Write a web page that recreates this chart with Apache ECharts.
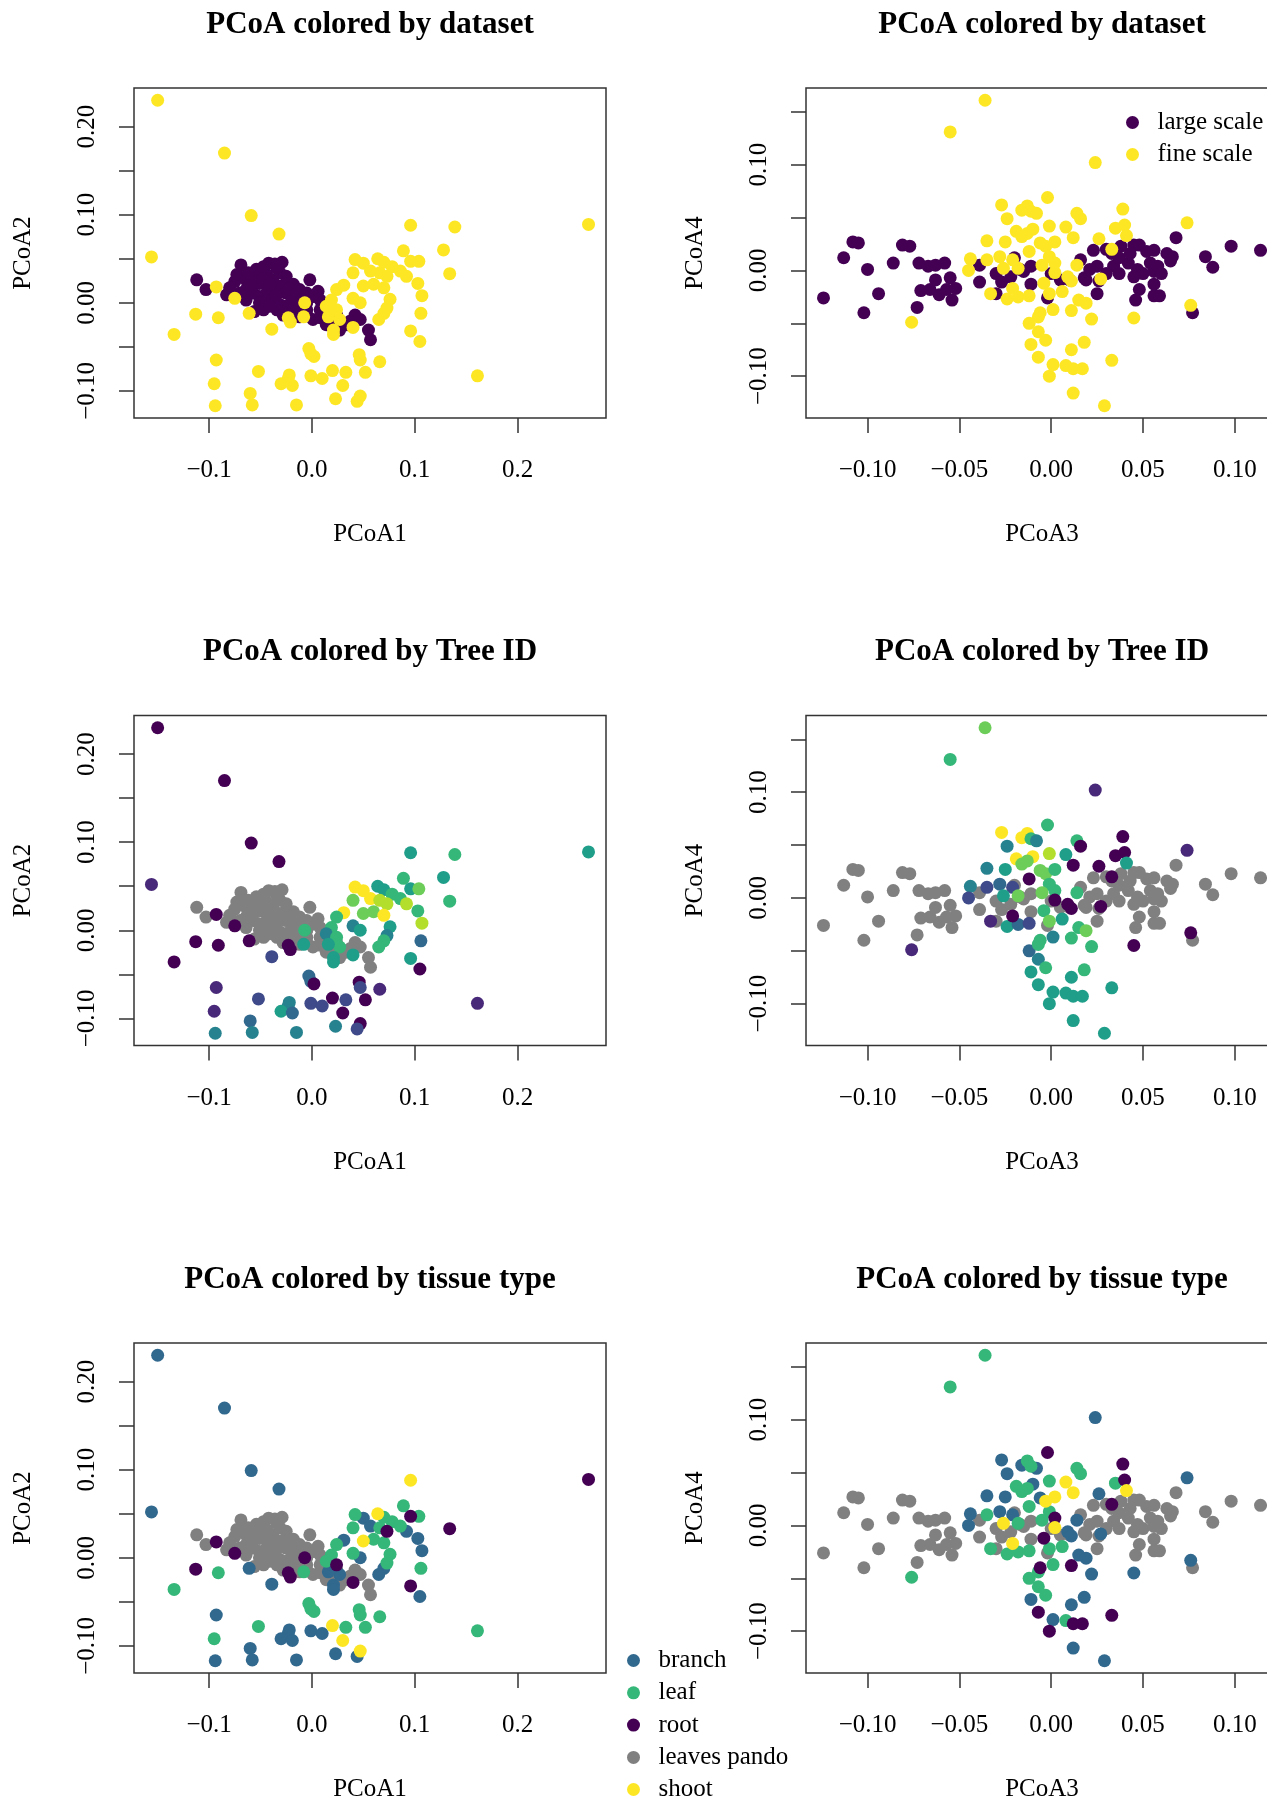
<!DOCTYPE html>
<html>
<head>
<meta charset="utf-8">
<title>PCoA panels</title>
<script src="https://cdn.jsdelivr.net/npm/echarts@6.0.0/dist/echarts.min.js"></script>
<style>
  html, body { margin: 0; padding: 0; background: #fff; }
  #chart { width: 1267px; height: 1800px; }
</style>
</head>
<body>
<div id="chart"></div>
<script>
var datasetNames = ['large scale', 'fine scale'];
var tissueLegend = ['branch', 'leaf', 'root', 'leaves pando', 'shoot'];
// tissue codes in the fine-scale arrays: 0 branch, 1 leaf, 2 root, 3 shoot, -1 not recorded
var tissueCodes = ['branch', 'leaf', 'root', 'shoot'];
var tissueColors = { branch: '#31688E', leaf: '#35B779', root: '#440154', shoot: '#FDE725', 'leaves pando': '#808080' };
var treeColors = ['#440154', '#482878', '#3E4A89', '#31688E', '#26828E', '#1F9E89', '#35B779', '#6DCD59', '#B4DE2C', '#FDE725'];

var ticks12X = [-0.1, 0, 0.1, 0.2];
var ticks12Y = [-0.1, -0.05, 0, 0.05, 0.1, 0.15, 0.2];
var labels12Y = [-0.1, 0, 0.1, 0.2];
var ticks34X = [-0.1, -0.05, 0, 0.05, 0.1];
var ticks34Y = [-0.1, -0.05, 0, 0.05, 0.1, 0.15];
var labels34Y = [-0.1, 0, 0.1];

// [PCoA1, PCoA2]
var large12 = [
  [-0.112,0.026],[-0.103,0.015],[-0.083,0.009],[-0.075,0.024],[-0.069,0.043],[-0.073,0.032],[-0.042,0.045],[-0.029,0.046],
  [-0.002,0.026],[0.006,0.013],[0.008,0.003],[0.042,-0.014],[0.047,-0.019],[0.055,-0.031],[0.057,-0.042],[0.027,-0.031],
  [-0.056,-0.010],[0.001,-0.019],[0.014,-0.025],[-0.064,0.026],[-0.057,0.030],[-0.051,0.022],[-0.044,0.032],[-0.038,0.026],
  [-0.031,0.034],[-0.025,0.022],[-0.018,0.021],[-0.012,0.015],[-0.005,0.011],[0.001,0.007],[-0.064,0.015],[-0.057,0.011],
  [-0.051,0.007],[-0.044,0.011],[-0.038,0.015],[-0.031,0.019],[-0.025,0.011],[-0.018,0.007],[-0.012,0.003],[-0.005,0.000],
  [-0.051,0.000],[-0.044,0.002],[-0.038,0.003],[-0.031,-0.002],[-0.025,-0.004],[-0.018,-0.008],[-0.012,-0.012],[-0.005,-0.014],
  [-0.034,-0.008],[-0.028,-0.014],[-0.047,-0.008],[-0.064,0.003],[-0.070,0.011],[-0.080,0.017],[-0.054,0.038],[-0.047,0.041],
  [-0.034,0.039],[-0.025,0.030],[0.008,-0.008],[0.014,-0.012],[0.021,-0.019],[0.034,-0.025],[0.008,-0.017],[-0.005,-0.008],
  [-0.012,-0.016],[0.037,-0.021],[0.024,-0.014],[0.011,-0.004],[-0.060,0.020],[-0.048,0.027],[-0.041,0.021],[-0.035,0.008],
  [-0.022,0.016],[-0.015,0.010],[-0.008,0.005],[-0.041,-0.004],[-0.020,0.001],[-0.062,0.034],[-0.036,0.044],[-0.015,-0.003]
];

// [PCoA1, PCoA2, tree, tissue]
var fine12 = [
  [-0.150,0.230,1,0],[-0.085,0.170,1,0],[-0.059,0.099,1,0],[-0.032,0.078,1,0],[-0.156,0.052,2,0],[0.096,0.088,6,3],
  [0.139,0.086,7,-1],[0.269,0.089,6,2],[0.089,0.059,7,1],[0.128,0.060,6,-1],[0.134,0.033,7,2],[0.042,0.049,10,1],
  [0.050,0.045,10,0],[0.064,0.050,6,3],[0.070,0.046,6,1],[0.078,0.041,7,1],[0.086,0.036,7,1],[0.092,0.030,9,0],
  [0.096,0.047,6,2],[0.104,0.047,8,1],[0.040,0.034,8,1],[0.057,0.036,10,0],[0.066,0.034,9,1],[0.073,0.030,9,2],
  [0.103,0.022,7,0],[0.107,0.008,9,0],[0.106,-0.012,4,1],[0.096,-0.032,6,2],[0.105,-0.044,1,0],[0.031,0.020,10,0],
  [0.024,0.015,7,1],[0.050,0.019,8,3],[0.060,0.021,8,1],[0.070,0.017,10,1],[0.040,0.005,5,1],[0.047,0.000,6,0],
  [0.076,0.004,6,1],[0.073,-0.006,5,1],[0.070,-0.012,7,0],[0.065,-0.019,7,0],[0.019,0.003,7,1],[0.014,-0.004,5,1],
  [0.024,-0.008,7,2],[0.027,-0.019,7,0],[0.016,-0.016,6,0],[-0.007,0.000,7,2],[-0.008,-0.016,6,1],[-0.023,-0.017,1,2],
  [-0.021,-0.022,1,2],[0.040,-0.028,6,2],[0.021,-0.031,6,0],[0.021,-0.036,6,0],[-0.093,0.018,1,2],[-0.075,0.005,1,2],
  [-0.061,-0.012,1,0],[-0.113,-0.013,1,2],[-0.091,-0.017,1,1],[-0.134,-0.036,1,1],[-0.039,-0.030,3,0],[-0.003,-0.052,4,1],
  [-0.001,-0.058,4,1],[0.002,-0.061,1,1],[-0.093,-0.065,2,0],[-0.052,-0.078,3,1],[-0.022,-0.082,5,0],[-0.023,-0.086,5,0],
  [-0.030,-0.092,6,0],[-0.019,-0.094,4,0],[-0.001,-0.083,3,0],[0.010,-0.086,3,0],[0.020,-0.077,1,3],[0.033,-0.079,3,1],
  [0.030,-0.094,1,3],[0.023,-0.109,5,0],[-0.015,-0.116,5,0],[-0.095,-0.092,2,1],[-0.094,-0.117,5,0],[-0.060,-0.103,4,0],
  [-0.058,-0.116,5,0],[0.046,-0.059,1,1],[0.047,-0.065,3,1],[0.052,-0.079,1,1],[0.066,-0.067,2,1],[0.047,-0.106,1,3],
  [0.044,-0.112,3,0],[0.161,-0.083,2,1]
];

// [PCoA3, PCoA4]
var large34 = [
  [-0.124,-0.026],[-0.113,0.012],[-0.108,0.027],[-0.105,0.026],[-0.100,0.001],[-0.102,-0.040],[-0.094,-0.022],[-0.086,0.007],
  [-0.081,0.024],[-0.077,0.023],[-0.072,0.007],[-0.067,0.004],[-0.063,0.005],[-0.058,0.007],[-0.073,-0.035],[-0.071,-0.019],
  [-0.066,-0.018],[-0.063,-0.009],[-0.061,-0.023],[-0.055,-0.007],[-0.054,-0.028],[-0.052,-0.017],[-0.057,-0.018],[-0.039,0.005],
  [-0.039,-0.011],[-0.030,-0.003],[-0.027,-0.011],[-0.030,-0.022],[-0.022,-0.006],[-0.020,0.012],[-0.017,0.001],[-0.015,-0.001],
  [-0.011,-0.013],[-0.011,0.004],[-0.002,-0.026],[0.000,-0.003],[0.005,-0.009],[0.010,-0.009],[0.016,0.010],[0.018,-0.007],
  [0.019,-0.009],[0.023,0.019],[0.025,0.004],[0.025,-0.022],[0.026,-0.010],[0.030,0.020],[0.034,0.004],[0.037,-0.003],
  [0.038,0.023],[0.045,0.024],[0.048,0.024],[0.052,0.018],[0.056,0.019],[0.042,0.007],[0.047,0.001],[0.050,-0.003],
  [0.054,0.007],[0.056,-0.001],[0.058,0.004],[0.060,-0.003],[0.048,-0.018],[0.046,-0.028],[0.056,-0.013],[0.056,-0.024],
  [0.059,-0.024],[0.068,0.031],[0.066,0.013],[0.065,0.009],[0.084,0.013],[0.088,0.003],[0.077,-0.040],[0.098,0.023],
  [0.114,0.019],[0.033,0.016],[0.037,0.012],[0.045,-0.006],[0.030,-0.003],[0.021,0.001],[0.063,0.016],[0.043,0.016]
];

// [PCoA3, PCoA4, tree, tissue]
var fine34 = [
  [-0.036,0.161,8,1],[-0.055,0.131,7,1],[0.024,0.102,2,0],[-0.002,0.069,7,2],[-0.027,0.062,10,0],[-0.016,0.057,10,0],
  [-0.013,0.061,10,1],[-0.011,0.056,7,1],[-0.008,0.054,5,0],[-0.024,0.049,5,0],[0.014,0.054,7,1],[0.016,0.049,1,1],
  [0.039,0.058,1,2],[0.040,0.043,1,2],[0.035,0.040,1,1],[0.074,0.045,2,0],[0.041,0.033,6,3],[0.008,0.041,6,3],
  [0.012,0.031,1,3],[0.026,0.030,1,0],[0.033,0.020,1,2],[-0.001,0.042,9,1],[-0.019,0.037,10,1],[-0.010,0.039,10,0],
  [-0.013,0.035,8,1],[-0.016,0.032,8,1],[-0.035,0.028,5,0],[-0.025,0.027,6,0],[-0.006,0.026,8,0],[-0.003,0.023,8,3],
  [0.002,0.027,7,3],[-0.044,0.011,5,0],[-0.035,0.010,3,1],[-0.028,0.013,4,0],[-0.021,0.010,3,0],[-0.026,0.002,6,3],
  [-0.018,0.002,8,1],[-0.012,0.018,1,1],[-0.001,0.013,7,1],[0.002,0.007,7,2],[-0.005,0.005,8,1],[0.009,-0.006,1,0],
  [0.014,0.005,7,0],[0.027,-0.008,1,0],[-0.004,-0.012,7,2],[-0.033,-0.022,2,1],[-0.024,-0.027,6,1],[-0.018,-0.025,4,1],
  [-0.012,-0.024,3,1],[-0.001,-0.022,8,1],[0.006,-0.020,6,1],[0.001,-0.037,5,1],[0.015,-0.028,7,0],[0.019,-0.031,8,0],
  [0.011,-0.038,7,2],[0.022,-0.046,7,0],[0.045,-0.045,1,0],[0.076,-0.033,1,0],[-0.076,-0.049,2,1],[-0.012,-0.050,4,1],
  [-0.007,-0.044,7,1],[-0.006,-0.040,7,2],[-0.007,-0.058,5,1],[-0.003,-0.066,7,1],[-0.011,-0.070,6,0],[-0.007,-0.082,6,2],
  [0.001,-0.089,6,0],[-0.001,-0.100,6,2],[0.008,-0.090,6,1],[0.012,-0.093,6,2],[0.017,-0.093,6,2],[0.011,-0.075,6,0],
  [0.018,-0.068,7,0],[0.033,-0.085,6,2],[0.012,-0.116,6,0],[0.029,-0.128,6,0],[-0.045,0.000,3,0],[0.002,-0.002,1,3],
  [0.011,-0.010,1,0],[-0.021,-0.017,1,3]
];

var font = "'Liberation Serif', 'Times New Roman', serif";
var colLeft = [134, 806];
var rowTop = [88, 715.5, 1343];
var boxW = 472, boxH = 330;

// R pads the data range by 4% on each side
function padRange(pts, k) {
  var lo = Infinity, hi = -Infinity;
  pts.forEach(function (p) { lo = Math.min(lo, p[k]); hi = Math.max(hi, p[k]); });
  var d = (hi - lo) * 0.04;
  return [lo - d, hi + d];
}
function fmt(dec) {
  return function (v) {
    var s = Math.abs(v).toFixed(dec);
    return (v < -1e-9 ? '\u2212' : '') + s;
  };
}

var all12 = large12.concat(fine12), all34 = large34.concat(fine34);
var sets = [
  { rx: padRange(all12, 0), ry: padRange(all12, 1), tx: ticks12X, lx: ticks12X, ty: ticks12Y, ly: labels12Y, dx: 1, nx: 'PCoA1', ny: 'PCoA2' },
  { rx: padRange(all34, 0), ry: padRange(all34, 1), tx: ticks34X, lx: ticks34X, ty: ticks34Y, ly: labels34Y, dx: 2, nx: 'PCoA3', ny: 'PCoA4' }
];
var titles = ['PCoA colored by dataset', 'PCoA colored by Tree ID', 'PCoA colored by tissue type'];

var grids = [], xAxes = [], yAxes = [], titleOpts = [], series = [];
var tickStyle = { color: '#333', width: 1.5 };

for (var i = 0; i < 6; i++) {
  var row = Math.floor(i / 2), col = i % 2, s = sets[col];
  grids.push({
    left: colLeft[col], top: rowTop[row], width: boxW, height: boxH,
    show: true, borderColor: '#333', borderWidth: 1.5, backgroundColor: 'transparent',
    containLabel: false, outerBoundsMode: 'none'
  });
  xAxes.push({
    gridIndex: i, type: 'value', min: s.rx[0], max: s.rx[1],
    axisLine: { show: false, onZero: false }, splitLine: { show: false },
    axisTick: { show: true, length: 15, customValues: s.tx, lineStyle: tickStyle },
    axisLabel: { customValues: s.lx, formatter: fmt(s.dx), margin: 40, fontSize: 25, color: '#000', fontFamily: font },
    name: s.nx, nameLocation: 'middle', nameGap: 104,
    nameTextStyle: { fontSize: 25, color: '#000', fontFamily: font }
  });
  yAxes.push({
    gridIndex: i, type: 'value', min: s.ry[0], max: s.ry[1],
    axisLine: { show: false, onZero: false }, splitLine: { show: false },
    axisTick: { show: true, length: 15, customValues: s.ty, lineStyle: tickStyle },
    axisLabel: { customValues: s.ly, formatter: fmt(2), rotate: 90, margin: 34, fontSize: 25, color: '#000', fontFamily: font },
    name: s.ny, nameLocation: 'middle', nameGap: 98,
    nameTextStyle: { fontSize: 25, color: '#000', fontFamily: font }
  });
  titleOpts.push({
    text: titles[row], left: colLeft[col] + boxW / 2, top: rowTop[row] - 79, textAlign: 'center', padding: 0,
    textStyle: { fontSize: 31, fontWeight: 'bold', color: '#000', fontFamily: font }
  });
}

function pts(name, idx, data, color) {
  return {
    name: name, type: 'scatter', xAxisIndex: idx, yAxisIndex: idx, data: data,
    symbol: 'circle', symbolSize: 13, itemStyle: { color: color, opacity: 1 },
    emphasis: { disabled: true }, silent: true
  };
}

var fineSets = [fine12, fine34], largeSets = [large12, large34];
for (var c = 0; c < 2; c++) {
  // row 1: dataset
  series.push(pts(datasetNames[0], c, largeSets[c], '#440154'));
  series.push(pts(datasetNames[1], c, fineSets[c], '#FDE725'));
  // row 2: tree id
  series.push(pts('pando trees', 2 + c, largeSets[c], '#808080'));
  series.push(pts('tree id', 2 + c, fineSets[c], function (p) { return treeColors[p.data[2] - 1]; }));
  // row 3: tissue
  series.push(pts('leaves pando', 4 + c, largeSets[c], tissueColors['leaves pando']));
  tissueCodes.forEach(function (t, k) {
    series.push(pts(t, 4 + c, fineSets[c].filter(function (p) { return p[3] === k; }), tissueColors[t]));
  });
}

var legendText = { fontSize: 25, color: '#000', fontFamily: font };
function legendBox(names, left, top, gap) {
  return { data: names, orient: 'vertical', left: left, top: top, padding: 0, icon: 'circle',
    itemWidth: 40, itemHeight: 13, itemGap: gap, selectedMode: false, textStyle: legendText };
}
var chart = echarts.init(document.getElementById('chart'));
chart.setOption({
  animation: false,
  backgroundColor: '#fff',
  title: titleOpts,
  grid: grids,
  xAxis: xAxes,
  yAxis: yAxes,
  legend: [
    legendBox(datasetNames, 1126, 110, 7),
    legendBox(tissueLegend.slice(0, 4), 627, 1648, 7.3),
    legendBox(tissueLegend.slice(4), 627, 1777, 7.3)
  ],
  series: series
});
</script>
</body>
</html>
